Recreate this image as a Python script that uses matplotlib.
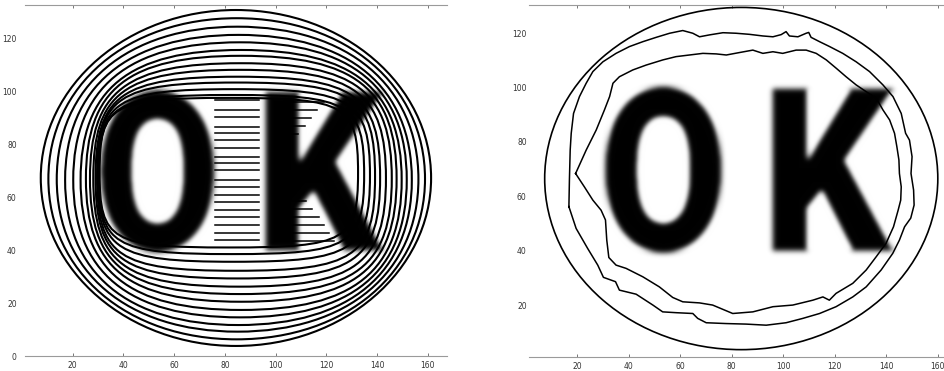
import numpy as np
import matplotlib
matplotlib.use("Agg")
import matplotlib.pyplot as plt
from matplotlib.path import Path
from matplotlib.patches import PathPatch, Ellipse
from matplotlib import patheffects
from matplotlib.transforms import Affine2D

# ---------------- DATA ----------------
x_ticks = [20, 40, 60, 80, 100, 120, 140, 160]
y_ticks_left = [0, 20, 40, 60, 80, 100, 120]
y_ticks_right = [20, 40, 60, 80, 100, 120]

# letters of the test image: centre x, baseline
letters = ["O", "K"]
letter_cx = [53.5, 116.5]
letter_base = 40.0

# left panel: snake snapshots, extents of each contour (outer -> inner)
snap_left = [7.4, 10.4, 13.7, 17.0, 20.2, 23.1, 25.2, 26.8, 28.1, 29.0, 29.6, 30.0, 30.3, 30.6]
snap_right = [161.3, 158.9, 156.3, 153.7, 151.7, 149.7, 147.7, 145.8, 143.5, 141.2, 139.2, 137.2, 134.9, 132.5]
snap_top = [130.7, 127.6, 124.4, 121.3, 118.5, 115.6, 113.4, 110.6, 108.1, 105.5, 103.3, 100.8, 98.6, 97.5]
snap_bottom = [3.8, 6.3, 9.2, 11.7, 14.6, 17.4, 20.5, 23.4, 26.2, 29.3, 32.2, 35.6, 38.5, 41.0]
snap_square = [0.552, 0.58, 0.61, 0.64, 0.67, 0.70, 0.73, 0.76, 0.79, 0.82, 0.85, 0.87, 0.89, 0.91]

# pieces of contours caught between the letters
gap_y = [96.7, 92.9, 90.3, 86.6, 84.2, 81.6, 78.6, 75.3, 72.9, 70.3, 66.5,
         64.0, 60.8, 58.3, 55.1, 52.6, 49.5, 46.5, 43.8]
gap_x0, gap_x1 = 76.0, 93.5
k_low_y = [43.5, 46.5, 49.5, 52.5, 55.5, 58.5]
k_low_x1 = [123.0, 121.0, 119.0, 117.0, 114.5, 112.0]
k_up_y = [96.0, 93.0, 90.0, 87.0, 84.0]
k_up_x1 = [119.0, 116.5, 114.0, 111.5, 109.0]
k_x0 = 106.0

# right panel: initial ellipse and two converged snakes
init_x = [7.4, 160.0]
init_y = [3.6, 129.5]

snake_a_x = [16.8, 17.0, 17.3, 17.7, 18.6, 20.9, 23.5, 26.1, 30.0, 35.1, 40.3, 45.5,
             50.7, 55.9, 61.0, 64.9, 67.5, 71.4, 76.6, 81.7, 86.9, 92.1, 96.0, 99.2,
             101.1, 102.4, 105.7, 108.9, 109.9, 110.8, 114.1, 118.0, 123.1, 128.3,
             133.5, 138.7, 142.6, 145.8, 147.5, 149.0, 150.0, 149.6, 150.6, 150.8,
             149.5, 147.1, 145.1, 142.5, 138.0, 132.2, 127.0, 120.5, 114.1, 107.6,
             101.1, 93.4, 85.6, 77.8, 70.1, 66.8, 64.9, 58.4, 53.2, 49.4, 42.9, 36.4,
             34.9, 30.2, 28.0, 24.1, 19.6, 16.8]
snake_a_y = [56.2, 66.0, 77.0, 83.2, 90.5, 96.7, 101.6, 105.9, 109.5, 112.6, 115.1,
             116.9, 118.5, 120.0, 121.0, 120.0, 118.7, 119.4, 120.2, 120.0, 119.6,
             119.0, 118.7, 119.5, 120.6, 119.0, 118.7, 120.0, 120.3, 118.5, 116.9,
             115.1, 112.6, 109.5, 105.9, 101.0, 96.7, 90.5, 83.2, 80.7, 74.6, 68.4,
             62.3, 56.8, 52.0, 48.8, 43.9, 39.0, 32.9, 26.7, 23.0, 19.4, 16.9, 15.1,
             13.5, 12.6, 13.0, 13.2, 13.5, 15.1, 16.9, 17.2, 17.5, 20.0, 24.0, 25.5,
             28.6, 30.2, 34.7, 40.8, 48.2, 56.2]

snake_b_x = [19.4, 23.5, 27.4, 30.6, 32.6, 33.9, 36.4, 41.6, 46.8, 53.3, 58.4, 63.6,
             68.8, 74.0, 77.9, 83.0, 88.2, 92.1, 96.0, 99.8, 105.0, 108.9, 112.8,
             116.7, 120.6, 124.4, 128.3, 132.2, 136.1, 138.7, 141.3, 143.2, 144.1,
             144.9, 145.1, 145.8, 145.6, 144.6, 142.8, 139.9, 136.1, 132.2, 127.0,
             120.5, 117.9, 115.4, 111.5, 103.7, 96.0, 88.2, 80.4, 72.6, 67.5, 61.0,
             57.1, 51.9, 45.5, 39.0, 35.1, 32.3, 31.5, 31.0, 29.3, 26.1, 22.8, 19.4]
snake_b_y = [68.4, 77.0, 84.4, 91.8, 96.7, 101.6, 104.0, 106.5, 108.3, 110.2, 111.4,
             112.0, 112.6, 112.4, 112.0, 112.9, 113.8, 112.6, 113.2, 112.6, 113.8,
             113.8, 112.6, 110.2, 107.1, 104.0, 101.0, 98.5, 96.1, 91.8, 88.1, 83.2,
             78.3, 73.4, 68.4, 63.5, 58.6, 54.9, 48.8, 42.7, 37.8, 32.9, 28.0, 24.3,
             21.8, 23.0, 21.8, 20.0, 19.4, 17.5, 16.9, 20.0, 20.8, 21.2, 22.8, 26.7,
             30.4, 33.5, 34.7, 37.5, 43.9, 51.3, 54.9, 58.6, 63.5, 68.4]


# ---------------- HELPERS ----------------
class Squeeze(patheffects.AbstractPathEffect):
    """narrow a glyph around its own centre"""
    def __init__(self, sx):
        super().__init__()
        self.sx = sx

    def draw_path(self, renderer, gc, tpath, affine, rgbFace=None):
        ext = tpath.get_extents()
        cx = 0.5 * (ext.x0 + ext.x1)
        t = Affine2D().translate(-cx, 0).scale(self.sx, 1).translate(cx, 0)
        renderer.draw_path(gc, tpath, t + affine, rgbFace)


def blur(img, dpi):
    sigma = 2.6 * dpi / 100.0
    r = int(np.ceil(3 * sigma))
    k = np.exp(-0.5 * (np.arange(-r, r + 1) / sigma) ** 2)
    k /= k.sum()
    p = np.pad(img, ((2 * r, 2 * r), (2 * r, 2 * r), (0, 0)))
    h, w = img.shape[0] + 2 * r, img.shape[1] + 2 * r
    tmp = np.zeros((p.shape[0], w, 4))
    for i, kv in enumerate(k):
        tmp += kv * p[:, i:i + w, :]
    out = np.zeros((h, w, 4))
    for i, kv in enumerate(k):
        out += kv * tmp[i:i + h, :, :]
    return out, -r, -r


def box_path(L, R, B, T, k):
    cx, cy = (L + R) / 2, (B + T) / 2
    a, b = (R - L) / 2, (T - B) / 2
    verts = [(R, cy), (R, cy + k * b), (cx + k * a, T), (cx, T),
             (cx - k * a, T), (L, cy + k * b), (L, cy),
             (L, cy - k * b), (cx - k * a, B), (cx, B),
             (cx + k * a, B), (R, cy - k * b), (R, cy)]
    codes = [Path.MOVETO] + [Path.CURVE4] * 12
    return Path(verts, codes)


def style_axes(ax, yticks, ypad):
    ax.set_xticks(x_ticks)
    ax.set_yticks(yticks)
    for s in ("left", "right"):
        ax.spines[s].set_visible(False)
    for s in ("top", "bottom"):
        ax.spines[s].set_color("#9a9a9a")
        ax.spines[s].set_linewidth(0.8)
    ax.tick_params(axis="x", direction="in", top=True, length=2.5, width=0.7,
                   color="#777777", labelsize=5.5, labelcolor="#333333", pad=3.5)
    ax.tick_params(axis="y", length=0, labelsize=5.5, labelcolor="#333333", pad=ypad)


def draw_letters(ax, size, squeeze):
    for s, cx, sx in zip(letters, letter_cx, squeeze):
        t = ax.text(cx, letter_base, s, ha="center", va="baseline",
                    fontsize=size, fontweight=900, color="black",
                    family=["Roboto", "DejaVu Sans"], zorder=1)
        t.set_path_effects([Squeeze(sx)])
        t.set_agg_filter(blur)


# ---------------- FIGURE ----------------
fig = plt.figure(figsize=(9.45, 3.71), dpi=100)

# left: evolution of the snake
ax1 = fig.add_axes([0.0265, 0.0404, 0.4466, 0.9469])
ax1.set_xlim(1.2, 167.6)
ax1.set_ylim(0, 132.7)
draw_letters(ax1, 160, [0.82, 0.89])
for L, R, B, T, k in zip(snap_left, snap_right, snap_bottom, snap_top, snap_square):
    ax1.add_patch(PathPatch(box_path(L, R, B, T, k), fill=False,
                            lw=1.5, ec="black", zorder=3))
for y in gap_y:
    ax1.plot([gap_x0, gap_x1], [y, y], color="black", lw=1.1, zorder=3)
for y, x1 in zip(k_low_y, k_low_x1):
    ax1.plot([k_x0, x1], [y, y], color="black", lw=1.1, zorder=3)
for y, x1 in zip(k_up_y, k_up_x1):
    ax1.plot([k_x0, x1], [y, y], color="black", lw=1.1, zorder=3)
style_axes(ax1, y_ticks_left, 6)

# right: initial ellipse and final snakes
ax2 = fig.add_axes([0.5603, 0.0385, 0.4539, 0.9488])
ax2.set_xlim(1.5, 168.0)
ax2.set_ylim(1.0, 130.5)
draw_letters(ax2, 164, [0.82, 0.89])
ax2.add_patch(Ellipse(((init_x[0] + init_x[1]) / 2, (init_y[0] + init_y[1]) / 2),
                      init_x[1] - init_x[0], init_y[1] - init_y[0],
                      fill=False, lw=1.2, ec="black", zorder=3))
ax2.plot(snake_a_x, snake_a_y, color="black", lw=1.1, zorder=3)
ax2.plot(snake_b_x, snake_b_y, color="black", lw=1.1, zorder=3)
style_axes(ax2, y_ticks_right, 2)

fig.savefig("out.png", dpi=100)
